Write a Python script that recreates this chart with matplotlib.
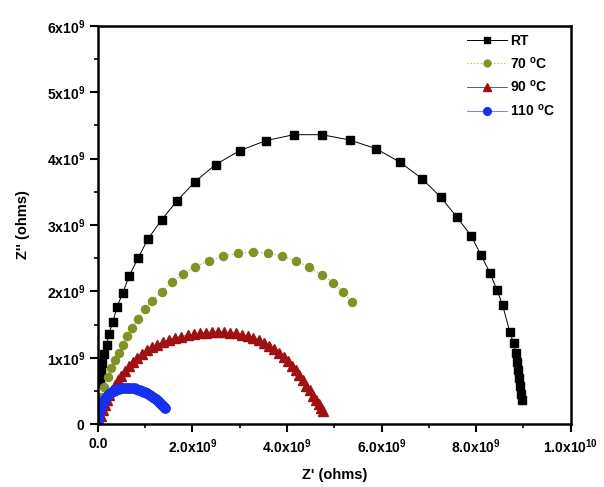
import numpy as np
import matplotlib.pyplot as plt
from matplotlib.ticker import FixedLocator, MultipleLocator

plt.rcParams['font.family'] = 'Liberation Sans'
plt.rcParams['font.weight'] = 'bold'
plt.rcParams['mathtext.fontset'] = 'custom'
plt.rcParams['mathtext.rm'] = 'Liberation Sans:bold'
plt.rcParams['mathtext.it'] = 'Liberation Sans:bold'
plt.rcParams['mathtext.bf'] = 'Liberation Sans:bold'

# impedance values, units of 1e9 ohms
rt_re = [0.03, 0.05, 0.06, 0.07, 0.08, 0.13, 0.19, 0.23, 0.32, 0.40, 0.53, 0.66,
         0.85, 1.06, 1.35, 1.67, 2.05, 2.49, 3.00, 3.55, 4.14, 4.74, 5.33, 5.88,
         6.38, 6.85, 7.25, 7.59, 7.89, 8.10, 8.29, 8.44, 8.56, 8.71, 8.79, 8.84,
         8.86, 8.88, 8.90, 8.92, 8.94, 8.96]
rt_im = [0.62, 0.70, 0.78, 0.85, 0.92, 1.06, 1.19, 1.36, 1.54, 1.76, 1.98, 2.23,
         2.50, 2.79, 3.08, 3.36, 3.65, 3.91, 4.12, 4.27, 4.36, 4.36, 4.28, 4.15,
         3.95, 3.70, 3.42, 3.12, 2.84, 2.55, 2.28, 2.02, 1.79, 1.39, 1.22, 1.07,
         0.94, 0.81, 0.69, 0.57, 0.45, 0.36]

t70_re = [0.02, 0.06, 0.13, 0.21, 0.27, 0.36, 0.44, 0.53, 0.61, 0.72, 0.85, 0.99,
          1.14, 1.35, 1.56, 1.80, 2.05, 2.35, 2.64, 2.96, 3.28, 3.59, 3.89, 4.19,
          4.46, 4.74, 4.97, 5.18, 5.37]
t70_im = [0.29, 0.41, 0.56, 0.71, 0.84, 0.97, 1.07, 1.19, 1.33, 1.45, 1.58, 1.73,
          1.86, 1.99, 2.14, 2.26, 2.37, 2.46, 2.53, 2.58, 2.59, 2.58, 2.53, 2.46,
          2.37, 2.25, 2.13, 1.99, 1.84]

t90_re = [0.03, 0.06, 0.11, 0.15, 0.19, 0.24, 0.30, 0.36, 0.42, 0.49, 0.57, 0.65,
          0.74, 0.83, 0.93, 1.03, 1.14, 1.25, 1.37, 1.50, 1.63, 1.76, 1.90, 2.03,
          2.16, 2.29, 2.41, 2.54, 2.66, 2.79, 2.92, 3.04, 3.17, 3.29, 3.40, 3.51,
          3.62, 3.73, 3.83, 3.93, 4.02, 4.11, 4.19, 4.26, 4.33, 4.41, 4.48, 4.55,
          4.61, 4.67, 4.72, 4.77]
t90_im = [0.03, 0.12, 0.21, 0.29, 0.36, 0.44, 0.51, 0.59, 0.66, 0.73, 0.80, 0.87,
          0.94, 1.00, 1.06, 1.11, 1.16, 1.20, 1.24, 1.27, 1.30, 1.32, 1.34, 1.36,
          1.37, 1.38, 1.39, 1.39, 1.39, 1.38, 1.37, 1.35, 1.33, 1.30, 1.27, 1.23,
          1.18, 1.13, 1.07, 1.01, 0.95, 0.88, 0.81, 0.74, 0.66, 0.58, 0.51, 0.43,
          0.36, 0.30, 0.24, 0.20]

t110_re = [0.00, 0.00, 0.01, 0.01, 0.02, 0.03, 0.04, 0.05, 0.06, 0.08, 0.09, 0.11,
           0.13, 0.15, 0.17, 0.19, 0.21, 0.24, 0.26, 0.29, 0.32, 0.35, 0.38, 0.41,
           0.44, 0.48, 0.51, 0.55, 0.59, 0.63, 0.66, 0.70, 0.74, 0.78, 0.81, 0.85,
           0.89, 0.93, 0.96, 1.00, 1.04, 1.07, 1.10, 1.13, 1.16, 1.19, 1.22, 1.25,
           1.27, 1.29, 1.31, 1.33, 1.35, 1.37, 1.39, 1.41, 1.42]
t110_im = [0.03, 0.06, 0.09, 0.12, 0.15, 0.18, 0.21, 0.24, 0.27, 0.30, 0.32, 0.34,
           0.36, 0.38, 0.40, 0.42, 0.44, 0.46, 0.47, 0.49, 0.50, 0.51, 0.52, 0.53,
           0.53, 0.54, 0.54, 0.54, 0.54, 0.54, 0.54, 0.54, 0.54, 0.54, 0.53, 0.52,
           0.51, 0.50, 0.49, 0.48, 0.47, 0.46, 0.44, 0.43, 0.41, 0.40, 0.38, 0.37,
           0.35, 0.34, 0.32, 0.31, 0.29, 0.28, 0.26, 0.25, 0.24]

x_ticks = [0, 2, 4, 6, 8, 10]
x_labels = ['0.0', '2.0x10$^9$', '4.0x10$^9$', '6.0x10$^9$', '8.0x10$^9$', '1.0x10$^{10}$']
y_ticks = [0, 1, 2, 3, 4, 5, 6]
y_labels = ['0', '1x10$^9$', '2x10$^9$', '3x10$^9$', '4x10$^9$', '5x10$^9$', '6x10$^9$']

fig = plt.figure(figsize=(6.04, 4.87), dpi=100)
ax = fig.add_axes([0.162, 0.129, 0.783, 0.818])

ax.plot(rt_re, rt_im, '-', color='black', lw=0.7, marker='s', ms=5.2,
        mfc='black', mec='black', label='RT')
ax.plot(t70_re, t70_im, ':', color='#b8c040', lw=0.9, marker='o', ms=5.8,
        mfc='#7f9426', mec='#7f9426', label='70 $^{o}$C')
ax.plot(t90_re, t90_im, '-', color='#202020', lw=0.5, marker='^', ms=7,
        mfc='#a01010', mec='#a01010', label='90 $^{o}$C')
ax.plot(t110_re, t110_im, '-', color='#4050e0', lw=0.5, marker='o', ms=6.5,
        mfc='#1530f0', mec='#1530f0', label='110 $^{o}$C')

ax.set_xlim(0, 10)
ax.set_ylim(0, 6)
ax.xaxis.set_major_locator(FixedLocator(x_ticks))
ax.xaxis.set_minor_locator(MultipleLocator(1))
ax.yaxis.set_major_locator(FixedLocator(y_ticks))
ax.yaxis.set_minor_locator(MultipleLocator(0.5))
ax.set_xticklabels(x_labels, fontsize=10, fontweight='bold')
ax.set_yticklabels(y_labels, fontsize=10, fontweight='bold')
ax.tick_params(which='major', direction='out', length=6, width=1.5)
ax.tick_params(which='minor', direction='out', length=3, width=1.2)
ax.tick_params(top=False, right=False)
for s in ax.spines.values():
    s.set_linewidth(1.8)

ax.set_xlabel("Z' (ohms)", fontsize=10.5, fontweight='bold', labelpad=9)
ax.set_ylabel("Z'' (ohms)", fontsize=10.5, fontweight='bold', labelpad=12)

ax.legend(loc='upper left', bbox_to_anchor=(0.76, 1.005), frameon=False,
          fontsize=10, handlelength=2.9, handletextpad=0.2, labelspacing=0.55,
          borderpad=0.2, markerscale=0.85)

fig.savefig('out.png', dpi=100)
